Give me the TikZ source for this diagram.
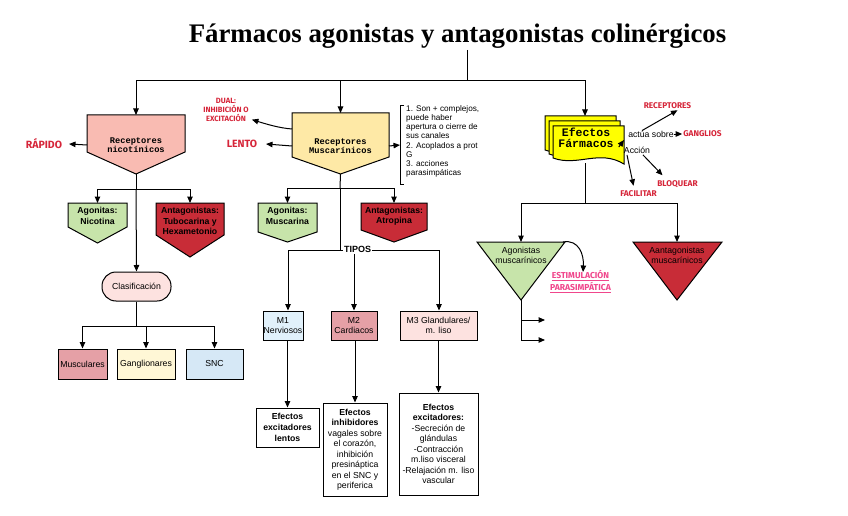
\documentclass[tikz,border=0pt]{standalone}
\usepackage{fontspec}
\setmainfont{Liberation Sans}
\newfontfamily\monof{Liberation Mono}
\newfontfamily\titlef{Liberation Serif}
\newfontfamily\handf{Fira Sans}
\usetikzlibrary{arrows.meta}
\definecolor{nicpink}{RGB}{249,187,178}
\definecolor{musyel}{RGB}{254,233,166}
\definecolor{agogreen}{RGB}{199,228,170}
\definecolor{antred}{RGB}{200,44,55}
\definecolor{lightpink}{RGB}{253,226,224}
\definecolor{dustpink}{RGB}{229,160,166}
\definecolor{cream}{RGB}{255,247,214}
\definecolor{lblue}{RGB}{214,232,246}
\definecolor{vlblue}{RGB}{225,241,251}
\definecolor{docyel}{RGB}{255,255,0}
\definecolor{redink}{RGB}{214,37,57}
\definecolor{pinkink}{RGB}{240,70,140}
% name, xl, xr, ytop, yside, ytip, fill, ytext, font ; text follows
\newcommand\pentnode[9]{%
  \filldraw[fill=#7, line width=1pt] (#2,#4) -- (#3,#4) -- (#3,#5) -- ({(#2+#3)/2},#6) -- (#2,#5) -- cycle;
  \coordinate (#1-top) at ({(#2+#3)/2},#4);
  \coordinate (#1-tip) at ({(#2+#3)/2},#6);
  \coordinate (#1-w) at (#2,#8);
  \coordinate (#1-e) at (#3,#8);
  \node[align=center, inner sep=0pt, font=#9] (#1) at ({(#2+#3)/2},#8)
}
\newcommand\docshape[5]{% xl xr ytop ybot fill
  \filldraw[fill=#5, line width=1pt] (#1,#3) -- (#2,#3) -- (#2,{#4+6})
    .. controls ({#2-0.35*(#2-#1)},{#4-9}) and ({#1+0.35*(#2-#1)},{#4+9}) .. (#1,#4) -- cycle;
}
\begin{document}
\begin{tikzpicture}[x=1pt,y=-1pt,
  arr/.style={-{Triangle[length=6.5pt,width=5.5pt]}, line width=1pt},
  ln/.style={line width=1pt},
  body/.style={font=\fontsize{8.7}{10.5}\selectfont, align=center, inner sep=0pt},
  boxs/.style={draw, line width=1pt, body},
  redtxt/.style={text=redink, font=\handf\bfseries\fontsize{8.3}{9}\selectfont, align=center, inner sep=0pt},
  dualtxt/.style={text=redink, font=\handf\bfseries\fontsize{7.6}{8.7}\selectfont, align=center, inner sep=0pt},
  bigred/.style={text=redink, font=\handf\bfseries\fontsize{10.5}{12}\selectfont, inner sep=0pt},
  pinktxt/.style={text=pinkink, font=\handf\bfseries\fontsize{8.6}{9.2}\selectfont, align=center, inner sep=0pt}
]
\useasboundingbox[fill=white] (0,0) rectangle (848,516);

% title
\node[font=\titlef\bfseries\fontsize{26.8}{30}\selectfont, inner sep=0pt] (title) at (457.5,36.5) {Fármacos agonistas y antagonistas colinérgicos};
\coordinate (hub) at (467,81);
\draw[ln] (hub |- 0,50) -- (hub);

% nicotinic branch
\pentnode{nic}{87}{185}{115}{152}{174}{nicpink}{145}{\monof\bfseries\fontsize{8.7}{9}\selectfont} {Receptores\\nicotínicos};
\pentnode{agn}{68}{127}{203}{227}{243}{agogreen}{216}{\bfseries\fontsize{8.7}{10.3}\selectfont} {Agonitas:\\Nicotina};
\pentnode{ann}{156}{224}{203}{235}{257}{antred}{221}{\bfseries\fontsize{8.7}{10.8}\selectfont} {Antagonistas:\\Tubocarina y\\Hexametonio};
\node[bigred] (rapido) at (44,144) {RÁPIDO};
\draw[arr] (nic-w) -- (rapido.east -| 69,0);

\node[draw, line width=1pt, fill=lightpink, rounded corners=14pt, minimum width=69pt, minimum height=29pt, body] (clas) at (136.5,286.5) {Clasificación};
\coordinate (nicbr) at (136,189);
\draw[ln] (nic-tip) -- (nicbr);
\draw[arr] (nicbr) -| (agn-top);
\draw[arr] (nicbr) -| (ann-top);
\draw[arr] (nicbr) -- (clas.north);

\node[boxs, fill=dustpink, minimum width=49pt, minimum height=30pt] (musc) at (82.5,364) {Musculares};
\node[boxs, fill=cream, minimum width=58pt, minimum height=30pt] (gang) at (146,364) {Ganglionares};
\node[boxs, fill=lblue, minimum width=57pt, minimum height=30pt] (snc) at (214.5,364) {SNC};
\coordinate (clbr) at (136.5,326);
\draw[ln] (clas.south) -- (clbr);
\draw[arr] (clbr) -| (musc.north);
\draw[arr] (clbr) -| (gang.north);
\draw[arr] (clbr) -| (snc.north);

% muscarinic branch
\pentnode{mus}{292}{389}{113}{157}{174}{musyel}{146}{\monof\bfseries\fontsize{8.7}{9}\selectfont} {Receptores\\Muscarínicos};
\pentnode{agm}{258}{317}{203}{232}{242}{agogreen}{216}{\bfseries\fontsize{8.7}{10.3}\selectfont} {Agonitas:\\Muscarina};
\pentnode{anm}{361}{427}{203}{230}{242}{antred}{216}{\bfseries\fontsize{8.7}{10.3}\selectfont} {Antagonistas:\\Atropina};
\node[bigred] (lento) at (242,144) {LENTO};
\draw[arr] (mus-w) -- (lento.east -| 266,0);
\node[dualtxt] (dual) at (226,110) {DUAL:\\INHIBICIÓN O\\EXCITACIÓN};
\coordinate (muswu) at (292,129);
\draw[arr] (muswu) .. controls (279,128) and (266,124) .. ([xshift=3pt,yshift=2pt]dual.south east);

% bracket
\coordinate (brk) at (400,145);
\draw[arr] (mus-e) -- (brk);
\draw[ln] (404,106) -- (400,106) -- (400,184) -- (404,184);
\node[anchor=north west, align=left, inner sep=0pt, font=\fontsize{8.2}{9.1}\selectfont] (brtxt) at (406,105.5) {1. Son + complejos,\\puede haber\\apertura o cierre de\\sus canales\\2. Acoplados a prot\\G\\3. acciones\\parasimpáticas};

\coordinate (musbr) at (340,188);
\draw[ln] (mus-tip) -- (musbr);
\draw[arr] (musbr) -| (agm-top);
\draw[arr] (musbr) -| (anm-top);
\coordinate (tl) at (288,250);
\coordinate (tr) at (439,250);
\draw[ln] (musbr) -- (340,250);
\draw[ln] (tl) -- (tr);
\node[fill=white, inner xsep=1pt, inner ysep=1pt, font=\bfseries\fontsize{9}{10}\selectfont] (tipos) at (357.5,249.5) {TIPOS};

\node[boxs, fill=vlblue, minimum width=40pt, minimum height=29pt] (m1) at (283,325.5) {M1\\Nerviosos};
\node[boxs, fill=dustpink, minimum width=46pt, minimum height=29pt] (m2) at (354,325.5) {M2\\Cardiacos};
\node[boxs, fill=lightpink, minimum width=77pt, minimum height=29pt] (m3) at (438.5,325.5) {M3 Glandulares/\\m. liso};
\draw[arr] (tl) -- (tl |- m1.north);
\draw[arr] (tipos.south -| m2.north) -- (m2.north);
\draw[arr] (tr) -- (tr |- m3.north);

\node[boxs, fill=white, minimum width=63pt, minimum height=39pt, font=\bfseries\fontsize{8.7}{11}\selectfont] (e1) at (287.5,427.5) {Efectos\\excitadores\\lentos};
\node[boxs, fill=white, minimum width=64pt, minimum height=93pt] (e2) at (355,449.5) {\textbf{Efectos}\\\textbf{inhibidores}\\vagales sobre\\el corazón,\\inhibición\\presináptica\\en el SNC y\\periferica};
\node[boxs, fill=white, minimum width=79pt, minimum height=102pt] (e3) at (438.5,444) {\textbf{Efectos}\\\textbf{excitadores:}\\-Secreción de\\glándulas\\-Contracción\\m.liso visceral\\-Relajación m. liso\\vascular};
\draw[arr] (m1.south -| e1.north) -- (e1.north);
\draw[arr] (m2.south -| e2.north) -- (e2.north);
\draw[arr] (m3.south -| e3.north) -- (e3.north);

% Efectos Farmacos
\docshape{545}{616}{116}{150}{docyel}
\docshape{549}{620}{121}{154}{docyel}
\docshape{553}{624}{126}{158}{docyel}
\node[inner sep=0pt, align=center, font=\monof\bfseries\fontsize{11.5}{11.5}\selectfont] (ef) at (586,138) {Efectos\\Fármacos};
\coordinate (ef-top) at (585,116);
\coordinate (ef-bot) at (585,163);

\draw[arr] (hub) -| (nic-top);
\draw[arr] (hub) -| (mus-top);
\draw[arr] (hub) -| (ef-top);

\node[body] (act) at (651,134) {actúa sobre};
\node[body] (acc) at (637,150.5) {Acción};
\node[redtxt] (recep) at (667.5,106) {RECEPTORES};
\node[redtxt] (gangl) at (702.5,134) {GANGLIOS};
\node[redtxt] (bloq) at (677.5,184) {BLOQUEAR};
\node[redtxt] (facil) at (638.5,194) {FACILITAR};
\draw[arr] ([xshift=-9pt]act.north) -- ([xshift=10pt,yshift=-1pt]recep.south);
\draw[arr] (act.east) -- ([xshift=-1pt]gangl.west);
\draw[arr] ([xshift=-5pt]acc.north west) -- (624,140);
\draw[arr] ([xshift=-10pt,yshift=-1pt]acc.south) -- ([xshift=-5pt,yshift=5pt]facil.north);
\draw[arr] ([xshift=6pt,yshift=-1pt]acc.south) -- ([xshift=-15pt,yshift=5pt]bloq.north);

\coordinate (efbr) at (585,203);
\coordinate (efl) at (521,203);
\coordinate (efr) at (677,203);
\draw[ln] (ef-bot) -- (efbr);
\draw[ln] (efl) -- (efr);
\draw[arr] (efl) -- (521,242);
\draw[arr] (efr) -- (677,242);

% triangles
\filldraw[fill=agogreen, line width=1pt] (477,242) -- (565,242) -- (521,300) -- cycle;
\node[body] (agmt) at (521,255.5) {Agonistas\\muscarínicos};
\filldraw[fill=antred, line width=1pt] (633,242) -- (722,242) -- (677,300) -- cycle;
\node[body] (anmt) at (677,255.5) {Aantagonistas\\muscarínicos};
\coordinate (agm-ne) at (563,242);
\coordinate (estim-n) at (583,272);
\draw[arr] (agm-ne) .. controls (579,239) and (584,255) .. (estim-n);
\node[pinktxt] (estim) at (580.5,281.5) {\underline{ESTIMULACIÓN}\\\underline{PARASIMPÁTICA}};

\coordinate (apex) at (521,300);
\coordinate (o1) at (545,320);
\coordinate (o2) at (545,340);
\draw[ln] (apex) -- (521,340);
\draw[arr] (521,320) -- (o1);
\draw[arr] (521,340) -- (o2);
\end{tikzpicture}
\end{document}
